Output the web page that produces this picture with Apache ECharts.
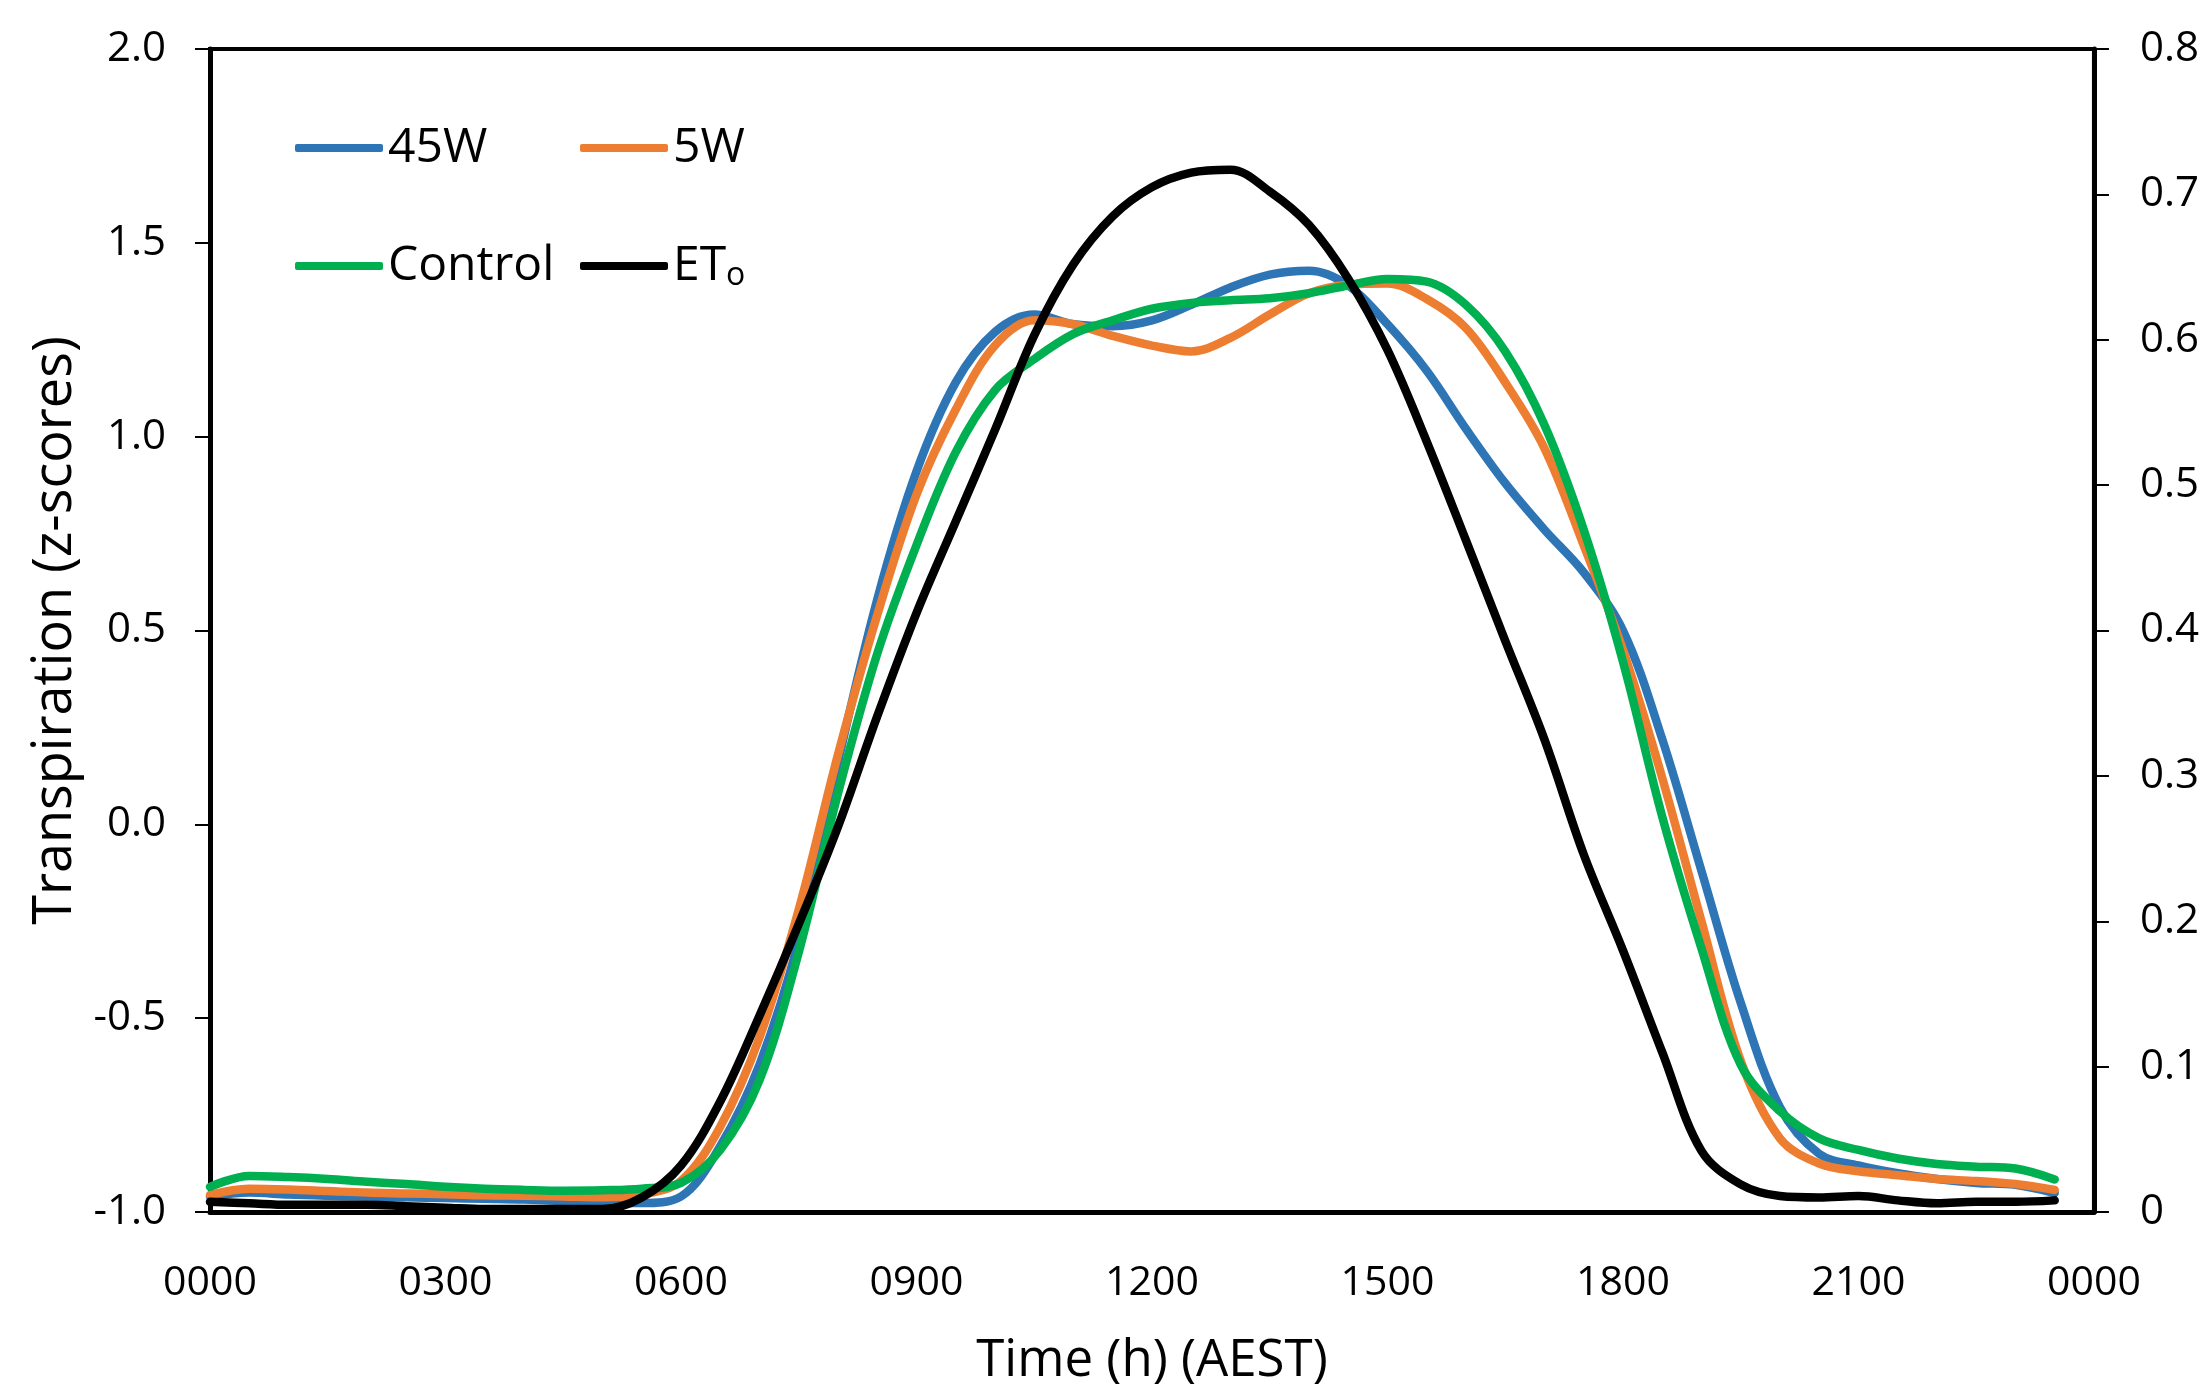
<!DOCTYPE html>
<html><head><meta charset="utf-8">
<script src="https://cdn.jsdelivr.net/npm/echarts@6/dist/echarts.min.js"></script>
<style>html,body{margin:0;padding:0;background:#fff}#c{width:2202px;height:1392px}</style>
</head><body><div id="c"></div>
<script>
// Time of day (hours, AEST)
const hours = [0,0.5,1,1.5,2,2.5,3,3.5,4,4.5,5,5.5,6,6.5,7,7.5,8,8.5,9,9.5,10,10.5,11,11.5,
               12,12.5,13,13.5,14,14.5,15,15.5,16,16.5,17,17.5,18,18.5,19,19.5,20,20.5,21,21.5,22,22.5,23,23.5];
// Transpiration z-scores (left axis)
const w45 = [-0.96,-0.95,-0.955,-0.958,-0.96,-0.962,-0.964,-0.966,-0.968,-0.972,-0.977,-0.977,-0.96,-0.83,-0.62,-0.30,
             0.16,0.58,0.91,1.14,1.27,1.315,1.29,1.285,1.30,1.34,1.385,1.418,1.428,1.39,1.29,1.17,1.02,0.88,0.76,0.65,
             0.50,0.22,-0.12,-0.46,-0.73,-0.85,-0.88,-0.90,-0.915,-0.925,-0.93,-0.951];
const w5 = [-0.956,-0.94,-0.942,-0.946,-0.95,-0.952,-0.954,-0.957,-0.958,-0.96,-0.962,-0.955,-0.92,-0.78,-0.55,-0.22,
            0.18,0.54,0.85,1.07,1.235,1.30,1.29,1.26,1.235,1.22,1.255,1.315,1.37,1.392,1.395,1.355,1.28,1.14,0.97,0.72,
            0.45,0.12,-0.25,-0.61,-0.81,-0.875,-0.895,-0.905,-0.915,-0.92,-0.928,-0.943];
const control = [-0.935,-0.907,-0.91,-0.915,-0.922,-0.928,-0.935,-0.94,-0.943,-0.945,-0.944,-0.94,-0.925,-0.84,-0.66,-0.33,
                 0.08,0.44,0.72,0.96,1.12,1.20,1.265,1.30,1.33,1.345,1.352,1.357,1.37,1.39,1.407,1.40,1.34,1.22,1.03,0.76,
                 0.42,0.02,-0.32,-0.62,-0.74,-0.81,-0.84,-0.862,-0.876,-0.883,-0.888,-0.916];
// Reference evapotranspiration ETo (right axis)
const eto = [0.007,0.006,0.005,0.005,0.005,0.004,0.003,0.002,0.002,0.002,0.002,0.01,0.032,0.076,0.135,0.198,
             0.265,0.341,0.412,0.475,0.538,0.603,0.652,0.685,0.705,0.715,0.717,0.702,0.679,0.642,0.593,0.53,
             0.462,0.393,0.325,0.246,0.18,0.11,0.042,0.019,0.011,0.010,0.011,0.008,0.006,0.007,0.007,0.008];
const xTickLabels = ['0000','0300','0600','0900','1200','1500','1800','2100','0000'];
const seriesNames = ['45W','5W','Control','ETo'];
const colors = ['#2E75B6','#ED7D31','#00B050','#000000'];

const FONT = 'Open Sans';
const pair = (arr) => hours.map((h, i) => [h, arr[i]]);
const lineSeries = (name, arr, color, yIdx, z) => ({
  name, type: 'line', data: pair(arr), yAxisIndex: yIdx, smooth: 0.35, showSymbol: false, symbol: 'none',
  lineStyle: { color, width: 8.5, cap: 'round', join: 'round' }, itemStyle: { color }, z
});
const legendAt = (name, left, top) => ({
  data: [name], left, top, padding: 0, icon: 'roundRect', itemWidth: 88, itemHeight: 8,
  selectedMode: false,
  formatter: (n) => n === 'ETo' ? '{a|ET}{s|o}' : '{a|' + n + '}',
  textStyle: { fontFamily: FONT, fontSize: 48, color: '#000',
    rich: { a: { fontFamily: FONT, fontSize: 48, color: '#000', lineHeight: 52 },
            s: { fontFamily: FONT, fontSize: 32, color: '#000', verticalAlign: 'bottom', lineHeight: 34 } } }
});

const chart = echarts.init(document.getElementById('c'), null, { renderer: 'canvas' });
chart.setOption({
  backgroundColor: '#fff',
  animation: false,
  grid: { left: 210, top: 49, width: 1890, height: 1163, show: true, borderColor: '#000', borderWidth: 4, containLabel: false },
  legend: [
    legendAt('45W', 295, 124), legendAt('5W', 580, 124),
    legendAt('Control', 295, 242), legendAt('ETo', 580, 242)
  ],
  xAxis: {
    type: 'value', min: 0, max: 24, interval: 3,
    name: 'Time (h) (AEST)', nameLocation: 'middle', nameGap: 124,
    nameTextStyle: { fontFamily: FONT, fontSize: 51, color: '#000' },
    axisLine: { show: true, onZero: false, lineStyle: { color: '#000', width: 5 } },
    axisTick: { show: false },
    axisLabel: { margin: 51, fontFamily: FONT, fontSize: 41, color: '#000',
      formatter: (v) => xTickLabels[Math.round(v / 3)] },
    splitLine: { show: false }
  },
  yAxis: [
    { type: 'value', min: -1, max: 2, interval: 0.5, position: 'left',
      name: 'Transpiration (z-scores)', nameLocation: 'middle', nameGap: 124, nameRotate: 90,
      nameTextStyle: { fontFamily: FONT, fontSize: 54, color: '#000' },
      axisLine: { show: true, onZero: false, lineStyle: { color: '#000', width: 5 } },
      axisTick: { show: true, inside: false, length: 15, lineStyle: { color: '#000', width: 2 } },
      axisLabel: { margin: 44, fontFamily: FONT, fontSize: 42, color: '#000', formatter: (v) => v.toFixed(1) },
      splitLine: { show: false } },
    { type: 'value', min: 0, max: 0.8, interval: 0.1, position: 'right',
      axisLine: { show: true, onZero: false, lineStyle: { color: '#000', width: 5 } },
      axisTick: { show: true, inside: false, length: 15, lineStyle: { color: '#000', width: 2 } },
      axisLabel: { margin: 46, fontFamily: FONT, fontSize: 42, color: '#000',
        formatter: (v) => v === 0 ? '0' : v.toFixed(1) },
      splitLine: { show: false } }
  ],
  series: [
    lineSeries(seriesNames[0], w45, colors[0], 0, 2),
    lineSeries(seriesNames[1], w5, colors[1], 0, 3),
    lineSeries(seriesNames[2], control, colors[2], 0, 4),
    lineSeries(seriesNames[3], eto, colors[3], 1, 5)
  ]
});
</script></body></html>
